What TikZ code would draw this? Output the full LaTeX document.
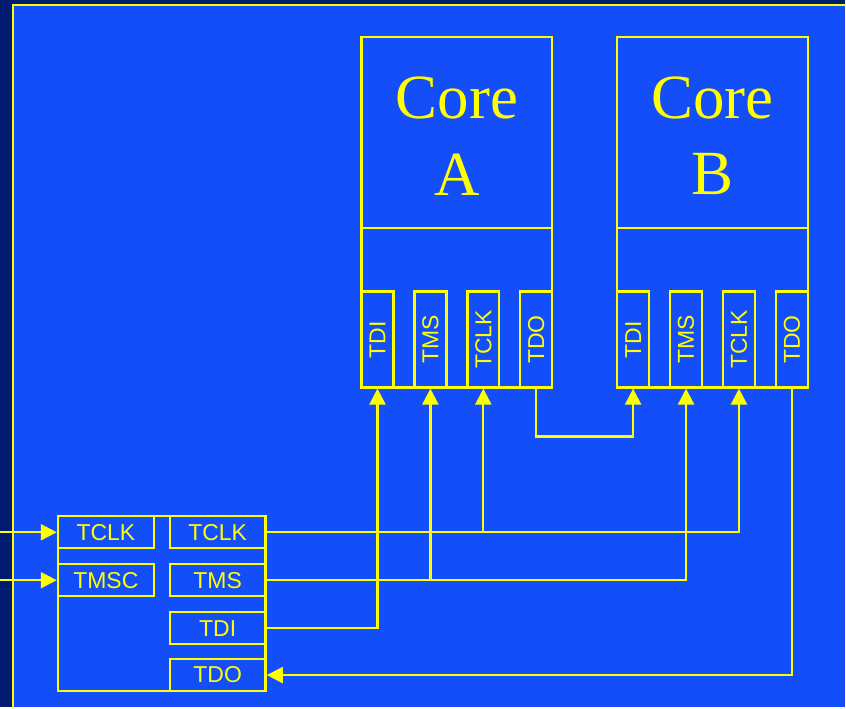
\documentclass[tikz,border=0pt]{standalone}
\usepackage{fontspec}
\setmainfont{Liberation Sans}
\newfontfamily\corefont{Liberation Serif}
\usetikzlibrary{arrows.meta}
\definecolor{slidedark}{RGB}{0,28,112}
\definecolor{slideblue}{RGB}{20,78,248}
\definecolor{wireyellow}{RGB}{255,255,0}
\begin{document}
\begin{tikzpicture}[x=1pt,y=-1pt,
    wire/.style={draw=wireyellow,line width=2.3pt},
    arr/.style={wire,-{Triangle[length=16pt,width=16pt]}},
    corebox/.style={wire,minimum width=191pt,minimum height=351pt,inner sep=0pt},
    pinbox/.style={wire,rotate=90,minimum width=96pt,minimum height=32pt,inner sep=0pt,
        text=wireyellow,font=\fontsize{23}{26}\selectfont},
    portbox/.style={wire,minimum width=96pt,minimum height=32pt,inner sep=0pt,
        text=wireyellow,font=\fontsize{23}{26}\selectfont},
    coretext/.style={text=wireyellow,align=center,font=\corefont\fontsize{63}{77}\selectfont}]
    % slide background
    \fill[slidedark] (0,0) rectangle (846,708);
    \fill[slideblue] (13,5) rectangle (846,708);
    \draw[wire] (13,708) -- (13,5) -- (846,5);
    \useasboundingbox (0,0) rectangle (846,708);
    % cores
    \node[corebox] (coreA) at (457.5,212.5) {};
    \node[corebox] (coreB) at (713.5,212.5) {};
    \draw[wire] (coreA.west |- 0,228) -- (coreA.east |- 0,228);
    \draw[wire] (coreB.west |- 0,228) -- (coreB.east |- 0,228);
    \node[coretext] (labA) at (457.5,136) {Core\\A};
    \node[coretext] (labB) at (713.5,136) {Core\\B};
    % pins
    \foreach \c/\x in {a/378,b/634} {
        \node[pinbox] (\c TDI) at (\x,340) {TDI};
        \node[pinbox] (\c TMS) at (\x+53,340) {TMS};
        \node[pinbox] (\c TCLK) at (\x+106,340) {TCLK};
        \node[pinbox] (\c TDO) at (\x+159,340) {TDO};
    }
    % adapter
    \draw[wire] (58,517) rectangle (266,692);
    \node[portbox] (tclkIn) at (106,533) {TCLK};
    \node[portbox] (tmscIn) at (106,581) {TMSC};
    \node[portbox] (tclkOut) at (218,533) {TCLK};
    \node[portbox] (tmsOut) at (218,581) {TMS};
    \node[portbox] (tdiOut) at (218,629) {TDI};
    \node[portbox] (tdoOut) at (218,676) {TDO};
    \coordinate (srcClk) at (0,533);
    \coordinate (srcMsc) at (0,581);
    % wiring
    \draw[arr] (srcClk) -- (tclkIn.west);
    \draw[arr] (srcMsc) -- (tmscIn.west);
    \draw[arr] (tclkOut.east) -| (bTCLK.west);
    \draw[arr] (tclkOut.east -| aTCLK.west) -- (aTCLK.west);
    \draw[arr] (tmsOut.east) -| (bTMS.west);
    \draw[arr] (tmsOut.east -| aTMS.west) -- (aTMS.west);
    \draw[arr] (tdiOut.east) -| (aTDI.west);
    \draw[arr] (aTDO.west) -- ++(0,48) -| (bTDI.west);
    \draw[arr] (bTDO.west) |- (tdoOut.east);
\end{tikzpicture}
\end{document}
